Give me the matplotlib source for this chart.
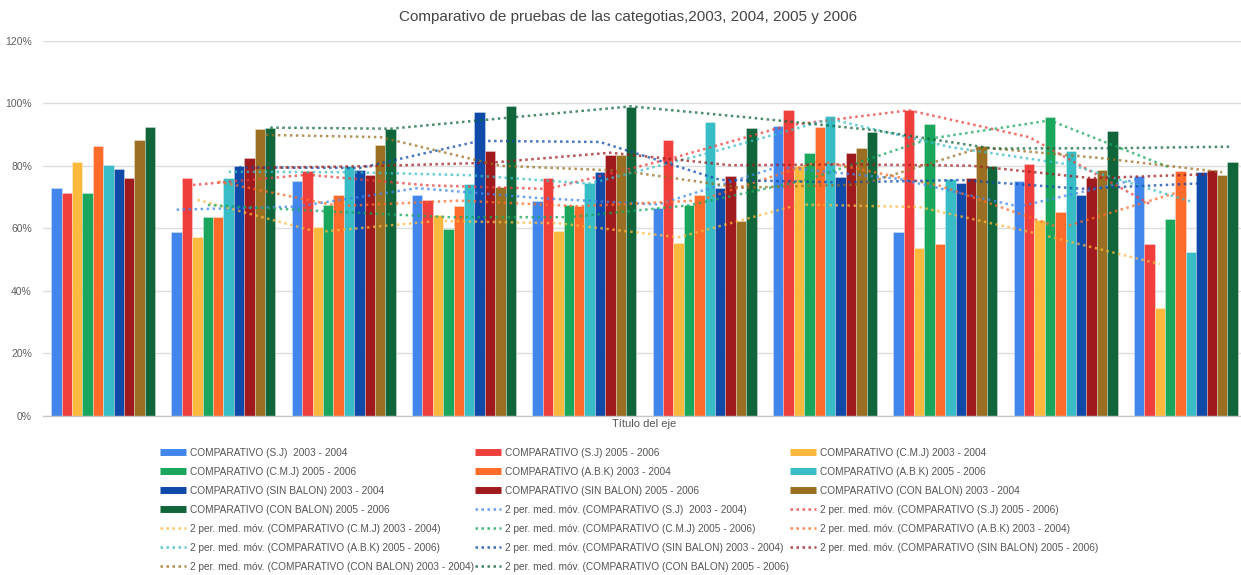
import numpy as np
import matplotlib
matplotlib.use("Agg")
import matplotlib.pyplot as plt
from matplotlib.lines import Line2D

plt.rcParams['font.family'] = ['Liberation Sans', 'DejaVu Sans']

# ---- data ----
categories = [""] * 10
series_names = [
    "COMPARATIVO (S.J)  2003 - 2004",
    "COMPARATIVO (S.J) 2005 - 2006",
    "COMPARATIVO (C.M.J) 2003 - 2004",
    "COMPARATIVO (C.M.J) 2005 - 2006",
    "COMPARATIVO (A.B.K) 2003 - 2004",
    "COMPARATIVO (A.B.K) 2005 - 2006",
    "COMPARATIVO (SIN BALON) 2003 - 2004",
    "COMPARATIVO (SIN BALON) 2005 - 2006",
    "COMPARATIVO (CON BALON) 2003 - 2004",
    "COMPARATIVO (CON BALON) 2005 - 2006",
]
sj_0304 = [73.0, 58.9, 75.0, 70.7, 68.7, 66.5, 92.8, 58.9, 75.0, 76.7]
sj_0506 = [71.4, 76.0, 78.3, 69.2, 76.0, 88.2, 97.8, 97.8, 80.6, 55.1]
cmj_0304 = [81.1, 57.1, 60.5, 64.2, 59.0, 55.2, 80.0, 53.6, 62.6, 34.4]
cmj_0506 = [71.4, 63.5, 67.3, 59.8, 67.3, 67.4, 84.1, 93.3, 95.8, 63.0]
abk_0304 = [86.3, 63.5, 70.7, 67.0, 67.1, 70.7, 92.4, 54.8, 65.3, 78.3]
abk_0506 = [80.2, 76.0, 79.9, 74.1, 74.5, 93.9, 96.1, 75.9, 84.8, 52.3]
sin_0304 = [79.1, 79.9, 78.7, 97.3, 78.0, 73.0, 76.4, 74.5, 70.8, 78.0]
sin_0506 = [76.0, 82.6, 77.2, 84.8, 83.6, 76.8, 84.1, 76.0, 76.1, 78.6]
con_0304 = [88.2, 91.7, 86.7, 73.3, 83.6, 62.4, 85.6, 86.2, 78.7, 77.2]
con_0506 = [92.4, 92.1, 91.7, 99.3, 98.8, 92.0, 91.0, 80.1, 91.2, 81.1]
series_values = [sj_0304, sj_0506, cmj_0304, cmj_0506, abk_0304,
                 abk_0506, sin_0304, sin_0506, con_0304, con_0506]
y_ticks = [0, 20, 40, 60, 80, 100, 120]
title = "Comparativo de pruebas de las categotias,2003, 2004, 2005 y 2006"
x_title = "Título del eje"

colors = ["#4286EC", "#EE3F3D", "#FDB93E", "#1AA65D", "#FF6B2A",
          "#38BCC5", "#0F4AA8", "#9E1A1D", "#9A6F22", "#10653A"]

# ---- figure ----
W, H = 1241, 575
fig = plt.figure(figsize=(W / 100, H / 100), dpi=100)
left, right, top, bottom = 43, 1246, 41, 415.5
ax = fig.add_axes([left / W, 1 - bottom / H, (right - left) / W, (bottom - top) / H])

n_groups = len(categories)
n_series = len(series_values)
group_frac = 0.865
bw = group_frac / n_series
x = np.arange(n_groups)

handles_bar, handles_ma = [], []
for k, (vals, col, name) in enumerate(zip(series_values, colors, series_names)):
    pos = x - group_frac / 2 + bw * (k + 0.5)
    ax.bar(pos, vals, width=bw, color=col, edgecolor=(1, 1, 1, 0.35),
           linewidth=0.6, zorder=2)
    v = np.array(vals)
    ma = (v[1:] + v[:-1]) / 2
    ax.plot(pos[1:], ma, color=col, linestyle=(0, (1, 1.4)), linewidth=1.8,
            alpha=0.75, zorder=3)
    handles_bar.append(Line2D([], [], color=col, linewidth=5, solid_capstyle='butt'))
    handles_ma.append(Line2D([], [], color=col, linestyle=(0, (1, 1.4)), linewidth=1.8, alpha=0.8))

ax.set_xlim(-0.5, n_groups - 0.5)
ax.set_ylim(0, 120)
ax.set_yticks(y_ticks)
ax.set_yticklabels([f"{t}%" for t in y_ticks], fontsize=7.5, color="#5f5f5f")
ax.set_xticks(x)
ax.set_xticklabels(categories)
ax.tick_params(axis='both', length=0)
ax.tick_params(axis='y', pad=8)
ax.grid(axis='y', color="#dcdcdc", linewidth=1, zorder=0)
ax.set_axisbelow(True)
for s in ['left', 'right', 'top']:
    ax.spines[s].set_visible(False)
ax.spines['bottom'].set_color("#c8c8c8")
ax.spines['bottom'].set_linewidth(1)

fig.text((left + right) / 2 / W, 1 - 424 / H, x_title, ha='center', va='center',
         fontsize=8, color="#555555")
fig.text(628 / W, 1 - 17.5 / H, title, ha='center', va='center',
         fontsize=11, color="#444444")

# ---- legend (row-major order, 3 columns) ----
all_handles = handles_bar + handles_ma
all_labels = series_names + [f"2 per. med. móv. ({n})" for n in series_names]
col_x = [160, 475, 790]
for c in range(3):
    hs = all_handles[c::3]
    ls = all_labels[c::3]
    fig.legend(hs, ls, loc='upper left', bbox_to_anchor=(col_x[c] / W, 1 - 448 / H),
               frameon=False, fontsize=7.3, borderpad=0, borderaxespad=0,
               handlelength=2.6, handletextpad=0.35, labelspacing=0.88,
               labelcolor="#555555")

fig.savefig("out.png", dpi=100)
